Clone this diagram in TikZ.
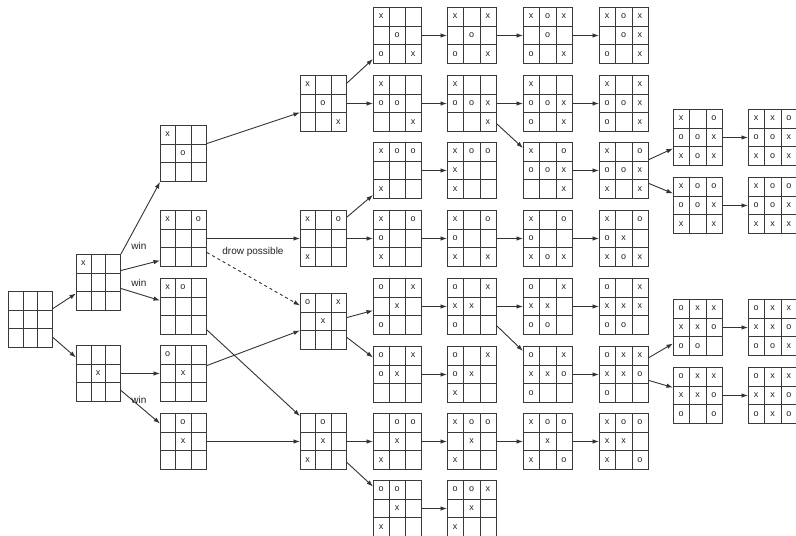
\documentclass[tikz,border=0pt]{standalone}
\usepackage{fontspec}
\setmainfont{Liberation Sans}
\usetikzlibrary{arrows.meta}
\definecolor{gridc}{HTML}{3A3A3A}
\definecolor{linec}{HTML}{333333}
\definecolor{markc}{HTML}{222222}
\newcommand{\markfont}{\fontsize{9}{9}\selectfont}
\newcommand{\lblfont}{\fontsize{10}{11}\selectfont}
\tikzset{
  boardnode/.style={draw=gridc, line width=1pt, minimum height=56pt, inner sep=0pt, anchor=north west, fill=white},
  gridln/.style={draw=gridc, line width=1pt},
  markst/.style={font=\markfont, text=markc, inner sep=0pt},
  conn/.style={draw=linec, line width=0.9pt, -{Latex[length=6.5pt,width=4.5pt]}},
  dconn/.style={conn, dashed},
  lbl/.style={font=\lblfont, text=markc, inner sep=0pt}
}
% #1 name, #2 x, #3 y (top), #4 width, #5 marks
\newcommand{\tboard}[5]{%
  \node[boardnode, minimum width=#4pt] (#1) at (#2,#3) {};
  \begin{scope}[shift={(#2,#3)}]
    \draw[gridln] ({round(#4/3)+0.5},0) -- ({round(#4/3)+0.5},56) ({round(2*#4/3)+0.5},0) -- ({round(2*#4/3)+0.5},56)
      (0,{round(56/3)+0.5}) -- (#4,{round(56/3)+0.5}) (0,{round(112/3)+0.5}) -- (#4,{round(112/3)+0.5});
    \foreach \m [count=\i from 0] in {#5} {
      \pgfmathtruncatemacro\rrow{floor(\i/3)}
      \pgfmathtruncatemacro\ccol{mod(\i,3)}
      \if\m-\else\node[markst] (#1m\i) at ({(\ccol+0.5)*#4/3},{(\rrow+0.5)*56/3}) {\m};\fi
    }
  \end{scope}
}
\begin{document}
\begin{tikzpicture}[x=1pt,y=-1pt]
\useasboundingbox (0,0) rectangle (796,536);
\fill[white] (0,0) rectangle (796,536);
% root and level 1
\tboard{R}{8}{291}{44}{-,-,-,-,-,-,-,-,-}
\tboard{A1}{76}{254}{44}{x,-,-,-,-,-,-,-,-}
\tboard{B1}{76}{345}{44}{-,-,-,-,x,-,-,-,-}
% level 2
\tboard{a2}{160}{125}{46}{x,-,-,-,o,-,-,-,-}
\tboard{b2}{160}{210}{46}{x,-,o,-,-,-,-,-,-}
\tboard{c2}{160}{278}{46}{x,o,-,-,-,-,-,-,-}
\tboard{d2}{160}{345}{46}{o,-,-,-,x,-,-,-,-}
\tboard{e2}{160}{413}{46}{-,o,-,-,x,-,-,-,-}
% level 3
\tboard{a3}{300}{75}{46}{x,-,-,-,o,-,-,-,x}
\tboard{d3}{300}{210}{46}{x,-,o,-,-,-,x,-,-}
\tboard{e3}{300}{293}{46}{o,-,x,-,x,-,-,-,-}
\tboard{g3}{300}{413}{46}{-,o,-,-,x,-,x,-,-}
% level 4
\tboard{A4}{373}{7}{48}{x,-,-,-,o,-,o,-,x}
\tboard{B4}{373}{75}{48}{x,-,-,o,o,-,-,-,x}
\tboard{C4}{373}{142}{48}{x,o,o,-,-,-,x,-,-}
\tboard{D4}{373}{210}{48}{x,-,o,o,-,-,x,-,-}
\tboard{E4}{373}{278}{48}{o,-,x,-,x,-,o,-,-}
\tboard{F4}{373}{346}{48}{o,-,x,o,x,-,-,-,-}
\tboard{G4}{373}{413}{48}{-,o,o,-,x,-,x,-,-}
\tboard{H4}{373}{480}{48}{o,o,-,-,x,-,x,-,-}
% level 5
\tboard{A5}{447}{7}{49}{x,-,x,-,o,-,o,-,x}
\tboard{B5}{447}{75}{49}{x,-,-,o,o,x,-,-,x}
\tboard{C5}{447}{142}{49}{x,o,o,x,-,-,x,-,-}
\tboard{D5}{447}{210}{49}{x,-,o,o,-,-,x,-,x}
\tboard{E5}{447}{278}{49}{o,-,x,x,x,-,o,-,-}
\tboard{F5}{447}{346}{49}{o,-,x,o,x,-,x,-,-}
\tboard{G5}{447}{413}{49}{x,o,o,-,x,-,x,-,-}
\tboard{H5}{447}{480}{49}{o,o,x,-,x,-,x,-,-}
% level 6
\tboard{A6}{523}{7}{49}{x,o,x,-,o,-,o,-,x}
\tboard{B6}{523}{75}{49}{x,-,-,o,o,x,o,-,x}
\tboard{C6}{523}{142}{49}{x,-,o,o,o,x,-,-,x}
\tboard{D6}{523}{210}{49}{x,-,o,o,-,-,x,o,x}
\tboard{E6}{523}{278}{49}{o,-,x,x,x,-,o,o,-}
\tboard{F6}{523}{346}{49}{o,-,x,x,x,o,o,-,-}
\tboard{G6}{523}{413}{49}{x,o,o,-,x,-,x,-,o}
% level 7
\tboard{A7}{599}{7}{49}{x,o,x,-,o,x,o,-,x}
\tboard{B7}{599}{75}{49}{x,-,x,o,o,x,o,-,x}
\tboard{C7}{599}{142}{49}{x,-,o,o,o,x,x,-,x}
\tboard{D7}{599}{210}{49}{x,-,o,o,x,-,x,o,x}
\tboard{E7}{599}{278}{49}{o,-,x,x,x,x,o,o,-}
\tboard{F7}{599}{346}{49}{o,x,x,x,x,o,o,-,-}
\tboard{G7}{599}{413}{49}{x,o,o,x,x,-,x,-,o}
% level 8
\tboard{CA8}{673}{109}{49}{x,-,o,o,o,x,x,o,x}
\tboard{CB8}{673}{177}{49}{x,o,o,o,o,x,x,-,x}
\tboard{FA8}{673}{299}{49}{o,x,x,x,x,o,o,o,-}
\tboard{FB8}{673}{367}{49}{o,x,x,x,x,o,o,-,o}
% level 9
\tboard{CA9}{748}{109}{49}{x,x,o,o,o,x,x,o,x}
\tboard{CB9}{748}{177}{49}{x,o,o,o,o,x,x,x,x}
\tboard{FA9}{748}{299}{49}{o,x,x,x,x,o,o,o,x}
\tboard{FB9}{748}{367}{49}{o,x,x,x,x,o,o,x,o}
% connectors level 0-3
\draw[conn] ([yshift=11pt]R.east) -- ([yshift=-11pt]A1.west);
\draw[conn] ([yshift=-18pt]R.east) -- ([yshift=16pt]B1.west);
\draw[conn] (A1.north east) -- (a2.south west);
\draw[conn] ([yshift=12pt]A1.east) -- ([yshift=-22pt]b2.west);
\draw[conn] ([yshift=-6pt]A1.east) -- ([yshift=6pt]c2.west);
\draw[conn] (B1.east) -- (d2.west);
\draw[conn] ([yshift=-17pt]B1.east) -- ([yshift=18pt]e2.west);
\draw[conn] ([yshift=10pt]a2.east) -- ([yshift=-9pt]a3.west);
\draw[conn] (b2.east) -- (d3.west);
\draw[dconn] ([yshift=-14pt]b2.east) -- ([yshift=16pt]e3.west);
\draw[conn] ([yshift=5pt]c2.south east) -- ([yshift=-3pt]g3.north west);
\draw[conn] ([yshift=8pt]d2.east) -- ([yshift=-9pt]e3.west);
\draw[conn] (e2.east) -- (g3.west);
\node[lbl] (win1) at (139,246) {win};
\node[lbl] (win2) at (139,283) {win};
\node[lbl] (win3) at (139,400) {win};
\node[lbl] (drow) at (253,252) {drow possible};
% level 3-4
\draw[conn] ([yshift=-8pt]a3.north east) -- ([yshift=5pt]A4.south west);
\draw[conn] (a3.east) -- (B4.west);
\draw[conn] ([yshift=-7pt]d3.north east) -- ([yshift=4pt]C4.south west);
\draw[conn] (d3.east) -- (D4.west);
\draw[conn] ([yshift=4pt]e3.east) -- ([yshift=-4pt]E4.west);
\draw[conn] ([yshift=-16pt]e3.east) -- ([yshift=17pt]F4.west);
\draw[conn] (g3.east) -- (G4.west);
\draw[conn] ([yshift=-21pt]g3.east) -- ([yshift=22pt]H4.west);
% level 4-5
\foreach \r in {A,B,C,D,E,F,G,H} {\draw[conn] (\r4.east) -- (\r5.west);}
% level 5-6
\foreach \r in {A,B,D,E,G} {\draw[conn] (\r5.east) -- (\r6.west);}
\draw[conn] ([yshift=8pt]B5.south east) -- ([yshift=-6pt]C6.north west);
\draw[conn] ([yshift=9pt]E5.south east) -- ([yshift=-5pt]F6.north west);
% level 6-7
\foreach \r in {A,B,C,D,E,F,G} {\draw[conn] (\r6.east) -- (\r7.west);}
% level 7-8
\draw[conn] ([yshift=11pt]C7.east) -- ([yshift=-11pt]CA8.west);
\draw[conn] ([yshift=-13pt]C7.east) -- ([yshift=12pt]CB8.west);
\draw[conn] ([yshift=17pt]F7.east) -- ([yshift=-16pt]FA8.west);
\draw[conn] ([yshift=-6pt]F7.east) -- ([yshift=8pt]FB8.west);
% level 8-9
\foreach \r in {CA,CB,FA,FB} {\draw[conn] (\r8.east) -- (\r9.west);}
\end{tikzpicture}
\end{document}
